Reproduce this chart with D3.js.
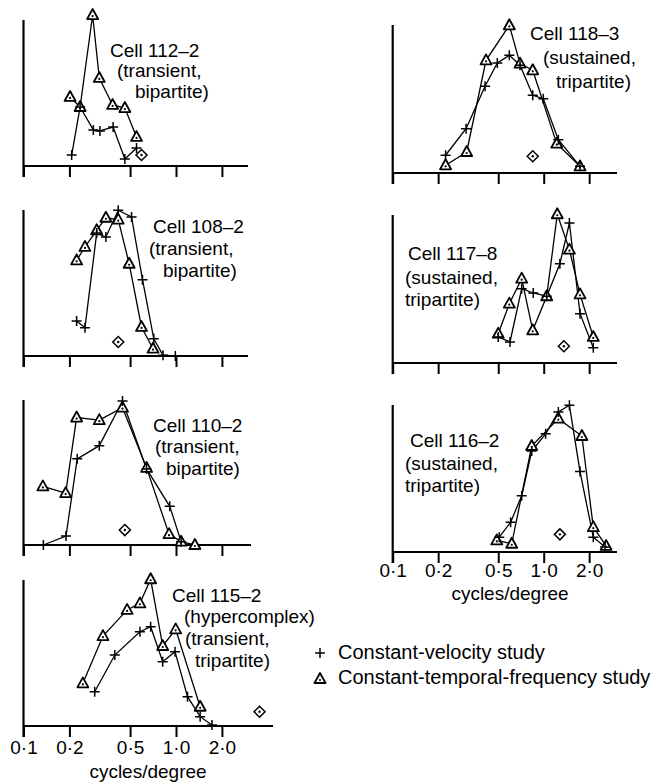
<!doctype html>
<html>
<head>
<meta charset="utf-8">
<style>
  body { margin: 0; background: #fff; }
  text { font-family: "Liberation Sans", Arial, sans-serif; fill: #000; }
  .lbl { font-size: 19px; }
  .leg { font-size: 20px; }
  .tick text { font-size: 19px; }
</style>
<script src="https://d3js.org/d3.v7.min.js"></script>
</head>
<body>
<svg width="659" height="782" id="fig"></svg>
<script>
// spatial frequency (cycles/degree) and relative response (axis height = 100)
// Vel = constant-velocity study (+), Tf = constant-temporal-frequency study (triangle)
const c112VelF = [0.207, 0.235, 0.287, 0.317, 0.387, 0.462, 0.551];
const c112VelR = [7.5, 40.4, 24.7, 24, 26.7, 4.8, 12.3];
const c112TfF = [0.202, 0.235, 0.284, 0.314, 0.384, 0.462, 0.551];
const c112TfR = [47.3, 40.4, 103.4, 60.3, 41.8, 39.7, 19.9];
const c112Opt = [0.594, 7.5];

const c108VelF = [0.223, 0.253, 0.302, 0.347, 0.418, 0.511, 0.603, 0.715, 0.822, 0.99];
const c108VelR = [24, 19.4, 84.2, 81.5, 99.8, 95.2, 52.3, 11.8, 0.5, 0];
const c108TfF = [0.223, 0.253, 0.302, 0.347, 0.418, 0.493, 0.594, 0.707];
const c108TfR = [65.5, 74.7, 86.1, 94.7, 93.4, 63.2, 19.9, 5];
const c108Opt = [0.418, 9.6];

const c110VelF = [0.135, 0.190, 0.225, 0.314, 0.446, 0.641, 0.91, 1.08];
const c110VelR = [0, 6.2, 59.4, 68.5, 99.3, 52.5, 26.7, 2.3];
const c110TfF = [0.134, 0.189, 0.223, 0.314, 0.446, 0.641, 0.90, 1.08, 1.33];
const c110TfR = [40.4, 35.8, 87.9, 86.1, 94.7, 53.2, 7.5, 2.3, 0];
const c110Opt = [0.462, 10.3];

const c115VelF = [0.293, 0.397, 0.580, 0.682, 0.818, 0.985, 1.19, 1.44, 1.72];
const c115VelR = [23.5, 48.6, 64.6, 68, 44, 50.9, 20.1, 6.4, 0.7];
const c115TfF = [0.245, 0.332, 0.478, 0.580, 0.682, 0.818, 0.995, 1.44];
const c115TfR = [29.2, 61.6, 79.5, 84, 100.5, 54.8, 66.2, 13.2];
const c115Opt = [3.53, 9.8];

const c118VelF = [0.224, 0.306, 0.409, 0.493, 0.592, 0.697, 0.846, 0.994, 1.25, 1.74];
const c118VelR = [12, 29.9, 58.6, 74.3, 79.5, 72.8, 52.5, 50.2, 22.5, 4.5];
const c118TfF = [0.224, 0.309, 0.415, 0.592, 0.697, 0.846, 1.22, 1.74];
const c118TfR = [5.2, 14.2, 76.1, 99.8, 73.9, 69.4, 19.8, 4.5];
const c118Opt = [0.846, 11.3];

const c117VelF = [0.500, 0.598, 0.715, 0.853, 1.047, 1.28, 1.48, 1.74, 2.13];
const c117VelR = [17.6, 14.2, 50.2, 47.3, 45.1, 67.1, 94.6, 33.3, 10.3];
const c117TfF = [0.500, 0.592, 0.715, 0.846, 1.047, 1.23, 1.48, 1.74, 2.13];
const c117TfR = [19.8, 40.1, 57, 22.1, 45.1, 100.5, 76.6, 46.4, 17.6];
const c117Opt = [1.36, 11.3];

const c116VelF = [0.508, 0.604, 0.715, 0.833, 1.03, 1.25, 1.48, 1.74, 2.13, 2.55];
const c116VelR = [10.1, 20.3, 38.3, 68.7, 80.4, 95.3, 99.8, 54.7, 10.1, 3.4];
const c116TfF = [0.489, 0.614, 0.833, 1.25, 1.79, 2.13, 2.59];
const c116TfR = [7.9, 5.6, 72.1, 90.7, 78.9, 16.9, 4.1];
const c116Opt = [1.28, 12];

const tickVals = [0.1, 0.2, 0.5, 1.0, 2.0];
const tickText = ["0·1", "0·2", "0·5", "1·0", "2·0"];
const axisTitle = "cycles/degree";
const legendText = ["Constant-velocity study", "Constant-temporal-frequency study"];

const c112Lbl = ["Cell 112–2", "(transient,", "bipartite)"];
const c108Lbl = ["Cell 108–2", "(transient,", "bipartite)"];
const c110Lbl = ["Cell 110–2", "(transient,", "bipartite)"];
const c115Lbl = ["Cell 115–2", "(hypercomplex)", "(transient,", "tripartite)"];
const c118Lbl = ["Cell 118–3", "(sustained,", "tripartite)"];
const c117Lbl = ["Cell 117–8", "(sustained,", "tripartite)"];
const c116Lbl = ["Cell 116–2", "(sustained,", "tripartite)"];

var svg = d3.select("#fig");

// two columns, each with its own log scale
var xLeft = d3.scaleLog().domain([0.1, 2]).range([23.5, 23.5 + 152.5 * Math.log10(20)]),
    xRight = d3.scaleLog().domain([0.1, 2]).range([392.7, 392.7 + 151 * Math.log10(20)]);

var panels = [
  {vf: c112VelF, vr: c112VelR, tf: c112TfF, tr: c112TfR, opt: c112Opt, x: xLeft, base: 166, h: 146, end: 248,
   lbl: c112Lbl, lx: [110, 117, 135], ly: [57, 77, 98]},
  {vf: c108VelF, vr: c108VelR, tf: c108TfF, tr: c108TfR, opt: c108Opt, x: xLeft, base: 356, h: 146, end: 248,
   lbl: c108Lbl, lx: [153, 149, 163], ly: [233, 255, 277]},
  {vf: c110VelF, vr: c110VelR, tf: c110TfF, tr: c110TfR, opt: c110Opt, x: xLeft, base: 545, h: 145, end: 251,
   lbl: c110Lbl, lx: [153, 155, 166], ly: [432, 453, 475]},
  {vf: c115VelF, vr: c115VelR, tf: c115TfF, tr: c115TfR, opt: c115Opt, x: xLeft, base: 726, h: 146, end: 273,
   lbl: c115Lbl, lx: [172, 184, 185, 195], ly: [602, 623, 645, 667], ticks: true, tpad: 4, tx: 148, ty: 778},
  {vf: c118VelF, vr: c118VelR, tf: c118TfF, tr: c118TfR, opt: c118Opt, x: xRight, base: 173, h: 148, end: 617,
   lbl: c118Lbl, lx: [530, 543, 556], ly: [40, 64, 88]},
  {vf: c117VelF, vr: c117VelR, tf: c117TfF, tr: c117TfR, opt: c117Opt, x: xRight, base: 363, h: 148, end: 617,
   lbl: c117Lbl, lx: [408, 405, 405], ly: [260, 284, 306]},
  {vf: c116VelF, vr: c116VelR, tf: c116TfF, tr: c116TfR, opt: c116Opt, x: xRight, base: 552, h: 147, end: 617,
   lbl: c116Lbl, lx: [410, 405, 405], ly: [447, 470, 492], ticks: true, tpad: 1, tx: 510, ty: 600}
];

function plus(g, cx, cy) {
  g.append("path")
   .attr("d", "M" + (cx - 5) + "," + cy + "h10M" + cx + "," + (cy - 5) + "v10")
   .attr("stroke", "#000").attr("stroke-width", 1.5).attr("fill", "none");
}
function tri(g, cx, cy) {
  g.append("path")
   .attr("d", "M" + cx + "," + (cy - 6) + "L" + (cx + 5.5) + "," + (cy + 4) + "L" + (cx - 5.5) + "," + (cy + 4) + "Z")
   .attr("stroke", "#000").attr("stroke-width", 1.8).attr("fill", "#fff").attr("stroke-linejoin", "round");
  g.append("circle").attr("cx", cx).attr("cy", cy + 1).attr("r", 1.1).attr("fill", "#000");
}
function diamond(g, cx, cy) {
  g.append("path")
   .attr("d", "M" + cx + "," + (cy - 5.5) + "L" + (cx + 5.5) + "," + cy + "L" + cx + "," + (cy + 5.5) + "L" + (cx - 5.5) + "," + cy + "Z")
   .attr("stroke", "#000").attr("stroke-width", 1.5).attr("fill", "#fff");
  g.append("circle").attr("cx", cx).attr("cy", cy).attr("r", 1.2).attr("fill", "#000");
}

panels.forEach(function(p) {
  var g = svg.append("g");
  var x = p.x,
      y = d3.scaleLinear().domain([0, 100]).range([p.base, p.base - p.h]);
  var x0 = x.range()[0];

  //axes
  var ax = g.append("g")
    .attr("transform", "translate(0," + p.base + ")")
    .call(d3.axisBottom(x).tickValues(tickVals).tickSize(11).tickPadding(p.tpad || 3)
      .tickFormat(function(d, i) { return p.ticks ? tickText[i] : ""; }));
  ax.select(".domain").remove();
  ax.selectAll(".tick line").attr("stroke-width", 2);
  ax.selectAll(".tick text").attr("font-family", null).attr("font-size", null);
  g.append("line").attr("x1", x0).attr("x2", p.end).attr("y1", p.base).attr("y2", p.base)
   .attr("stroke", "#000").attr("stroke-width", 2.2);
  g.append("line").attr("x1", x0).attr("x2", x0).attr("y1", p.base + 11).attr("y2", p.base - p.h)
   .attr("stroke", "#000").attr("stroke-width", 2.2);
  if (p.ticks) {
    g.append("text").attr("class", "lbl").attr("text-anchor", "middle")
     .attr("x", p.tx).attr("y", p.ty).text(axisTitle);
  }

  //curves
  var line = d3.line().x(function(d) { return x(d[0]); }).y(function(d) { return y(d[1]); });
  var vel = d3.zip(p.vf, p.vr), tf = d3.zip(p.tf, p.tr);
  [vel, tf].forEach(function(s) {
    g.append("path").datum(s).attr("d", line)
     .attr("fill", "none").attr("stroke", "#000").attr("stroke-width", 1.3);
  });
  tf.forEach(function(d) { tri(g, x(d[0]), y(d[1])); });
  vel.forEach(function(d) { plus(g, x(d[0]), y(d[1])); });
  diamond(g, x(p.opt[0]), y(p.opt[1]));

  //cell label
  p.lbl.forEach(function(t, i) {
    g.append("text").attr("class", "lbl").attr("x", p.lx[i]).attr("y", p.ly[i]).text(t);
  });
});

//legend
var lg = svg.append("g");
plus(lg, 320, 653);
tri(lg, 320, 679);
legendText.forEach(function(t, i) {
  lg.append("text").attr("class", "leg").attr("x", 338).attr("y", 659 + i * 25).text(t);
});
</script>
</body>
</html>
